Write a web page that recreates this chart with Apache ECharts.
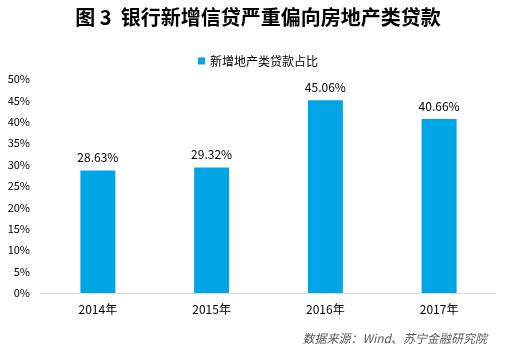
<!DOCTYPE html>
<html>
<head>
<meta charset="utf-8">
<script src="https://cdn.jsdelivr.net/npm/echarts@6/dist/echarts.min.js"></script>
<style>
  html, body { margin: 0; padding: 0; background: #fff; }
  #chart { width: 516px; height: 353px; }
</style>
</head>
<body>
<div id="chart"></div>
<script>
var years = ['2014年', '2015年', '2016年', '2017年'];
var shareValues = [28.63, 29.32, 45.06, 40.66];
var seriesName = '新增地产类贷款占比';

var chart = echarts.init(document.getElementById('chart'));
var font = '"Microsoft YaHei", "Noto Sans CJK SC", sans-serif';

var option = {
    backgroundColor: '#fff',
    title: [{
        text: '图 3  银行新增信贷严重偏向房地产类贷款',
        left: 'center',
        top: 2,
        textStyle: { fontSize: 20, fontWeight: 'bold', color: '#000', fontFamily: font }
    }, {
        text: '数据来源：Wind、苏宁金融研究院',
        right: 24,
        top: 327,
        textStyle: { fontSize: 12, fontStyle: 'italic', fontWeight: 'normal', color: '#595959', fontFamily: font }
    }],
    legend: {
        data: [seriesName],
        top: 50,
        left: 'center',
        itemWidth: 7,
        itemHeight: 7,
        itemGap: 4,
        icon: 'rect',
        textStyle: { fontSize: 12, color: '#000', fontFamily: font }
    },
    grid: { left: 41, right: 20, top: 79, bottom: 60 },
    xAxis: {
        type: 'category',
        data: years,
        axisTick: { show: false },
        axisLine: { lineStyle: { color: '#d9d9d9' } },
        axisLabel: { fontSize: 12, color: '#000', margin: 10, fontFamily: font }
    },
    yAxis: {
        type: 'value',
        min: 0,
        max: 50,
        interval: 5,
        splitLine: { show: false },
        axisLine: { show: false },
        axisTick: { show: false },
        axisLabel: { formatter: '{value}%', fontSize: 11, color: '#000', margin: 11, fontFamily: font }
    },
    series: [{
        name: seriesName,
        type: 'bar',
        data: shareValues,
        barWidth: 35,
        itemStyle: { color: '#00a5e5' },
        label: {
            show: true,
            position: 'top',
            distance: 7,
            formatter: function (p) { return p.value.toFixed(2) + '%'; },
            fontSize: 12,
            color: '#000',
            fontFamily: font
        }
    }]
};

chart.setOption(option);
</script>
</body>
</html>
